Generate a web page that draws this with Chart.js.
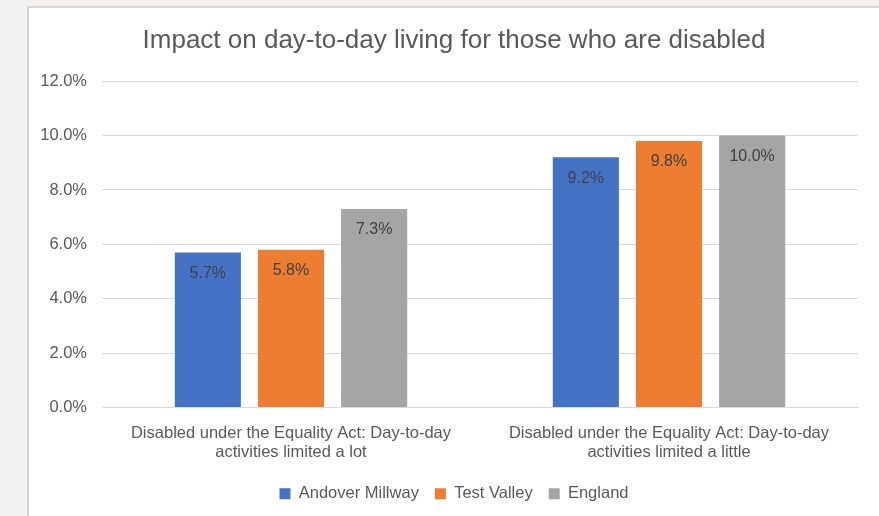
<!DOCTYPE html>
<html>
<head>
<meta charset="utf-8">
<script src="https://cdn.jsdelivr.net/npm/chart.js@4"></script>
<style>
    html, body { margin: 0; padding: 0; background: #f3f2f1; }
    #card {
        position: absolute;
        left: 27px; top: 6px;
        width: 850px; height: 508px;
        border-left: 2px solid #d4d4d4;
        border-top: 2px solid #d4d4d4;
        background: #fff;
    }
    #chart { display: block; }
</style>
</head>
<body>
<div id="card"><canvas id="chart" width="850" height="508"></canvas></div>
<script>
const categories = [
    ["Disabled under the Equality Act: Day-to-day", "activities limited a lot"],
    ["Disabled under the Equality Act: Day-to-day", "activities limited a little"]
];
const seriesNames = ["Andover Millway", "Test Valley", "England"];
const andoverMillway = [5.7, 9.2];
const testValley = [5.8, 9.8];
const england = [7.3, 10.0];
const yTicks = [0, 2, 4, 6, 8, 10, 12];

const colors = ["#4472c4", "#ed7d31", "#a5a5a5"];
const fontFamily = "'Liberation Sans', Arial, sans-serif";

// labels inside the top of each bar
const barLabels = {
    id: "barLabels",
    afterDatasetsDraw(chart) {
        const ctx = chart.ctx;
        ctx.save();
        ctx.font = "16px " + fontFamily;
        ctx.fillStyle = "#404040";
        ctx.textAlign = "center";
        ctx.textBaseline = "middle";
        chart.data.datasets.forEach((ds, i) => {
            chart.getDatasetMeta(i).data.forEach((bar, j) => {
                ctx.fillText(ds.data[j].toFixed(1) + "%", bar.x, bar.y + 21);
            });
        });
        ctx.restore();
    }
};

new Chart(document.getElementById("chart").getContext("2d"), {
    type: "bar",
    data: {
        labels: categories,
        datasets: [andoverMillway, testValley, england].map((d, i) => ({
            label: seriesNames[i],
            data: d,
            backgroundColor: colors[i],
            categoryPercentage: 0.66,
            barPercentage: 0.795
        }))
    },
    options: {
        responsive: false,
        animation: false,
        layout: { padding: { left: 0, right: 0, top: 8, bottom: 4 } },
        plugins: {
            title: {
                display: true,
                text: "Impact on day-to-day living for those who are disabled",
                color: "#595959",
                font: { family: fontFamily, size: 26, weight: "normal" },
                padding: { top: 9, bottom: 25 }
            },
            legend: {
                position: "bottom",
                labels: {
                    color: "#595959",
                    font: { family: fontFamily, size: 16.5 },
                    boxWidth: 11,
                    boxHeight: 11,
                    padding: 16
                }
            },
            tooltip: { enabled: false }
        },
        scales: {
            x: {
                grid: { display: false },
                border: { color: "#d9d9d9", width: 1 },
                ticks: {
                    color: "#595959",
                    font: { family: fontFamily, size: 16.5, lineHeight: 1.15 },
                    padding: 8
                }
            },
            y: {
                min: 0,
                max: 12,
                afterBuildTicks: axis => { axis.ticks = yTicks.map(v => ({ value: v })); },
                afterFit: axis => { axis.width = 73; },
                grid: { color: "#d9d9d9", drawTicks: false },
                border: { display: false },
                ticks: {
                    color: "#595959",
                    font: { family: fontFamily, size: 16.5 },
                    padding: 15,
                    callback: v => v.toFixed(1) + "%"
                }
            },
            // empty right margin so the title stays centred on the card
            yRight: {
                position: "right",
                display: true,
                afterFit: axis => { axis.width = 21; },
                grid: { display: false },
                border: { display: false },
                ticks: { display: false }
            }
        }
    },
    plugins: [barLabels]
});
</script>
</body>
</html>
